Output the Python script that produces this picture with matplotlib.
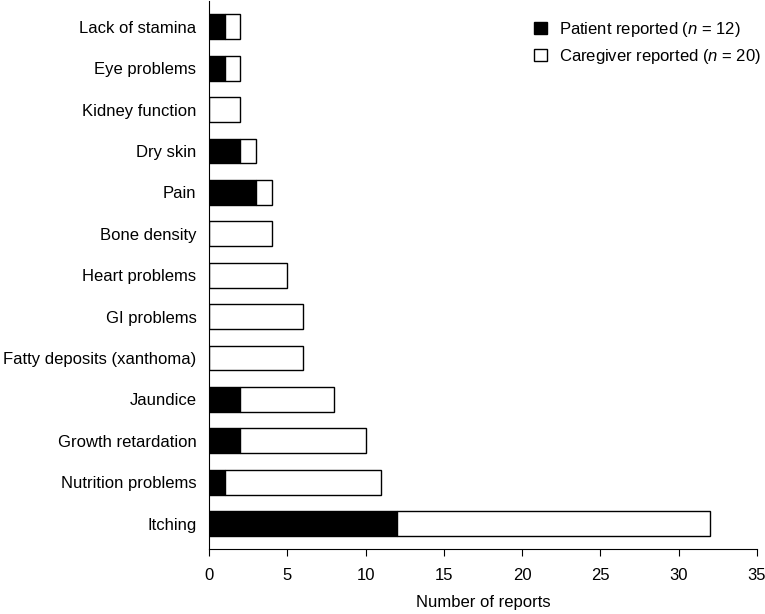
import matplotlib
matplotlib.use("Agg")
import matplotlib.pyplot as plt
from matplotlib.patches import Patch

plt.rcParams['font.family'] = ['Liberation Sans', 'DejaVu Sans']
plt.rcParams['mathtext.fontset'] = 'custom'
plt.rcParams['mathtext.rm'] = 'Liberation Sans'
plt.rcParams['mathtext.it'] = 'Liberation Sans:italic'

categories = ["Itching", "Nutrition problems", "Growth retardation", "Jaundice",
              "Fatty deposits (xanthoma)", "GI problems", "Heart problems",
              "Bone density", "Pain", "Dry skin", "Kidney function",
              "Eye problems", "Lack of stamina"]
patient = [12, 1, 2, 2, 0, 0, 0, 0, 3, 2, 0, 1, 1]
caregiver = [20, 10, 8, 6, 6, 6, 5, 4, 1, 1, 2, 1, 1]
xticks = [0, 5, 10, 15, 20, 25, 30, 35]

fig = plt.figure(figsize=(7.65, 6.14), dpi=100)
ax = fig.add_axes([209/765, 65/614, (757-209)/765, (614-65-1)/614])

y = list(range(len(categories)))
ax.barh(y, patient, height=0.6, color='black', edgecolor='black', linewidth=1)
ax.barh(y, caregiver, left=patient, height=0.6, color='white', edgecolor='black', linewidth=1)

ax.set_xlim(0, 35)
ax.set_ylim(-0.61, 12.62)
ax.set_xticks(xticks)
ax.set_yticks(y)
ax.set_yticklabels(categories)
ax.tick_params(axis='y', length=0, pad=9, labelsize=12)
ax.tick_params(axis='x', direction='out', length=5, labelsize=12, pad=9)
ax.spines['top'].set_visible(False)
ax.spines['right'].set_visible(False)
ax.set_xlabel("Number of reports", fontsize=12, labelpad=8)

handles = [Patch(facecolor='black', edgecolor='black', linewidth=1),
           Patch(facecolor='white', edgecolor='black', linewidth=1)]
labels = [r"Patient reported ($\it{n}$ = 12)", r"Caregiver reported ($\it{n}$ = 20)"]
ax.legend(handles, labels, loc='upper right', frameon=False, fontsize=12,
          handlelength=0.75, handleheight=0.75, handletextpad=0.7,
          labelspacing=0.5, bbox_to_anchor=(1.034, 0.993), borderaxespad=0.5)

fig.savefig("out.png", dpi=100)
